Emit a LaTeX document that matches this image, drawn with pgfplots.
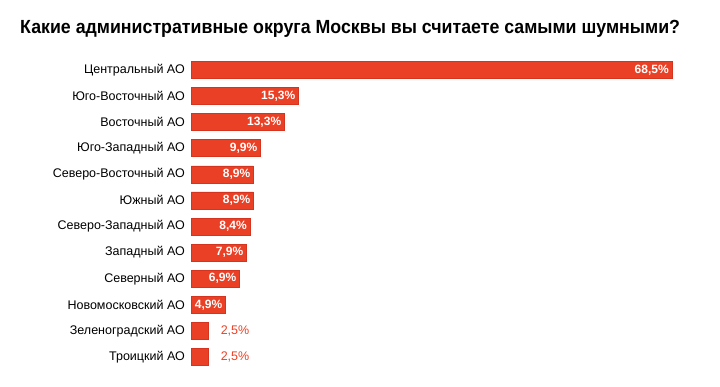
\documentclass[border=0pt]{standalone}
\usepackage{fontspec}
\setmainfont{Liberation Sans}
\usepackage{graphicx}
\usepackage{pgfplots}
\usepackage{pgfplotstable}
\pgfplotsset{compat=1.18}
\definecolor{barred}{RGB}{234,65,38}
\definecolor{bardark}{RGB}{214,52,30}
\pgfplotstableread[col sep=comma]{
idx,val,lab
0,68.5,{68,5\%}
1,15.3,{15,3\%}
2,13.3,{13,3\%}
3,9.9,{9,9\%}
4,8.9,{8,9\%}
5,8.9,{8,9\%}
6,8.4,{8,4\%}
7,7.9,{7,9\%}
8,6.9,{6,9\%}
9,4.9,{4,9\%}
}\biglabels
\pgfplotstableread[col sep=comma]{
idx,val,lab
10,2.5,{2,5\%}
11,2.5,{2,5\%}
}\smalllabels
\begin{document}
\begin{tikzpicture}[x=1pt,y=1pt]
\useasboundingbox (0,0) rectangle (720,386);
\node[anchor=west,inner sep=0pt,font=\bfseries\fontsize{19}{22}\selectfont] at (20,357) {\scalebox{0.935}[1]{Какие административные округа Москвы вы считаете самыми шумными?}};
\begin{axis}[
  at={(191pt,15.95pt)}, anchor=south west,
  scale only axis, width=509pt, height=313.2pt,
  xmin=0, xmax=72.5, ymin=-0.5, ymax=11.5,
  y dir=reverse,
  axis line style={draw=none},
  xtick=\empty,
  ytick={0,...,11},
  yticklabels={Центральный АО,Юго-Восточный АО,Восточный АО,Юго-Западный АО,Северо-Восточный АО,Южный АО,Северо-Западный АО,Западный АО,Северный АО,Новомосковский АО,Зеленоградский АО,Троицкий АО},
  yticklabel style={inner sep=0pt, xshift=-6pt, font=\fontsize{12.5}{14}\selectfont},
  major tick length=0pt,
  clip=false,
]
\addplot[xbar, bar width=17pt, fill=barred, draw=bardark, line width=0.5pt,bar shift=0pt]
  coordinates {(68.5,0) (15.3,1) (13.3,2) (9.9,3) (8.9,4) (8.9,5) (8.4,6) (7.9,7) (6.9,8) (4.9,9) (2.5,10) (2.5,11)};
\addplot[draw=none, mark=none, point meta=explicit symbolic,
  nodes near coords, nodes near coords style={anchor=east, inner sep=0pt, xshift=-3pt, text=white, font=\bfseries\fontsize{12}{14}\selectfont}]
  table[x=val, y=idx, meta=lab] {\biglabels};
\addplot[draw=none, mark=none, point meta=explicit symbolic,
  nodes near coords, nodes near coords style={anchor=west, inner sep=0pt, xshift=12pt, text=barred, font=\fontsize{12.5}{14}\selectfont}]
  table[x=val, y=idx, meta=lab] {\smalllabels};
\end{axis}
\end{tikzpicture}
\end{document}
